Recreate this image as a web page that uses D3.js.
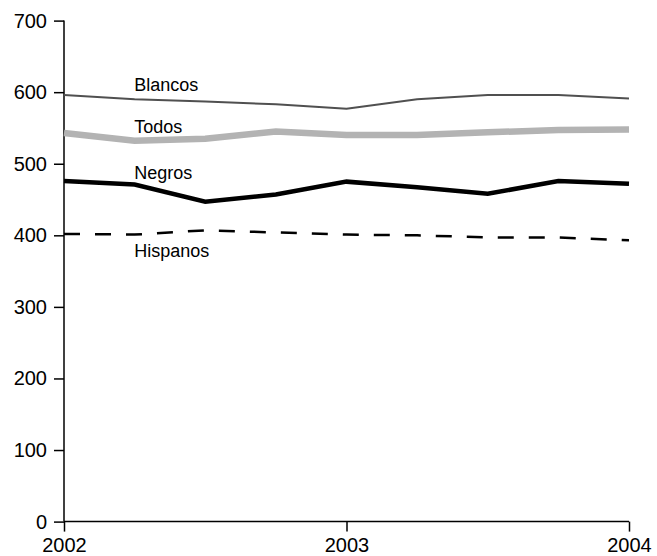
<!DOCTYPE html>
<html><head><meta charset="utf-8">
<script src="https://cdn.jsdelivr.net/npm/d3@7"></script>
<style>body{margin:0;background:#fff}text{font-family:"Liberation Sans",Arial,sans-serif}</style>
</head><body><svg id="c" width="657" height="556"></svg>
<script>
const periods = [2002, 2002.25, 2002.5, 2002.75, 2003, 2003.25, 2003.5, 2003.75, 2004];
const xTicks = [2002, 2003, 2004];
const yTicks = [0, 100, 200, 300, 400, 500, 600, 700];
const blancos = [596, 590, 587, 583, 577, 590, 596, 596, 591];
const todos = [543, 532, 535, 545, 540, 540, 544, 547, 548];
const negros = [476, 471, 447, 457, 475, 467, 458, 476, 472];
const hispanos = [402, 401, 407, 404, 401, 400, 397, 397, 393];
const seriesNames = ["Blancos", "Todos", "Negros", "Hispanos"];

const svg = d3.select("#c");
const x = d3.scaleLinear().domain([2002, 2004]).range([64, 629]);
const y = d3.scaleLinear().domain([0, 700]).range([521.6, 20.6]);

const ya = svg.append("g").attr("transform","translate(64,0)")
  .call(d3.axisLeft(y).tickValues(yTicks).tickSize(10).tickPadding(7).tickFormat(d3.format("d")));
const xa = svg.append("g").attr("transform","translate(0,521.6)")
  .call(d3.axisBottom(x).tickValues(xTicks).tickSize(10).tickPadding(6).tickFormat(d3.format("d")));
[ya, xa].forEach(a => {
  a.select(".domain").attr("stroke","#000").attr("stroke-width",1.5);
  a.selectAll(".tick line").attr("stroke","#000").attr("stroke-width",1.5);
  a.selectAll("text").attr("font-size",20).attr("fill","#000").attr("font-family","'Liberation Sans',Arial,sans-serif");
});
ya.select(".domain").attr("d","M0,521.6V20.6");
xa.select(".domain").attr("d","M64,0H629");

const line = d3.line().x((d,i)=>x(periods[i])).y(d=>y(d));
const styles = [
  {data: blancos, stroke:"#505050", w:2, dash:null},
  {data: todos, stroke:"#b3b3b3", w:6.5, dash:null},
  {data: negros, stroke:"#000", w:4.5, dash:null},
  {data: hispanos, stroke:"#000", w:2.5, dash:"16,15"}
];
styles.forEach(s => {
  svg.append("path").datum(s.data).attr("d", line).attr("fill","none")
    .attr("stroke", s.stroke).attr("stroke-width", s.w)
    .attr("stroke-dasharray", s.dash).attr("stroke-linejoin","miter");
});

const labelVals = [blancos[1], todos[1], negros[1], hispanos[1]];
const labelOff = [-8.6, -8.1, -5.6, 22];
seriesNames.forEach((n,i) => {
  svg.append("text").attr("x", x(periods[1]) - 0.3).attr("y", y(labelVals[i]) + labelOff[i])
    .attr("font-size",18).attr("fill","#000").text(n);
});
</script></body></html>
